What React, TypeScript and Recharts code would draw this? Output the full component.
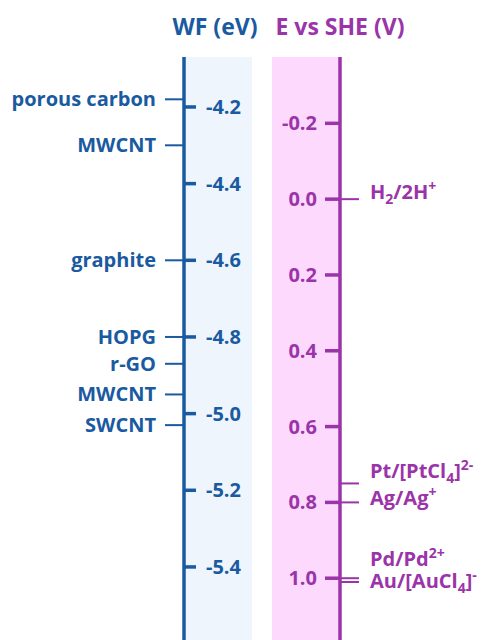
import React from 'react'
import { ComposedChart, XAxis, YAxis, Scatter, ReferenceArea } from 'recharts'

// axis ticks
const wfTicks = [-4.2, -4.4, -4.6, -4.8, -5.0, -5.2, -5.4]
const sheTicks = [-0.2, 0.0, 0.2, 0.4, 0.6, 0.8, 1.0]

// carbon materials and their work function (eV)
const materials = ['porous carbon', 'MWCNT', 'graphite', 'HOPG', 'r-GO', 'MWCNT', 'SWCNT']
const workFunctions = [-4.18, -4.3, -4.6, -4.8, -4.87, -4.95, -5.03]

// redox couples and their potential vs SHE (V); _x = subscript, ^... = superscript
const couples = ['H_2/2H^+', 'Pt/[PtCl_4]^2-', 'Ag/Ag^+', 'Pd/Pd^2+', 'Au/[AuCl_4]^-']
const potentials = [0.0, 0.75, 0.8, 1.0, 1.01]

const BLUE = '#1a5aa0'
const PURPLE = '#9a34a8'
const FONT = '"Open Sans", Lato, sans-serif'
const FS = 20

// text nudges so neighbouring labels don't collide
const coupleTextShift: Record<string, number> = {
  'Pt/[PtCl_4]^2-': -5,
  'Ag/Ag^+': 3,
  'Pd/Pd^2+': -12,
  'Au/[AuCl_4]^-': 6,
}

const materialData = materials.map((name, i) => ({ x: 0, wf: workFunctions[i], name }))
const coupleData = couples.map((name, i) => ({ x: 1, e: potentials[i], name }))

function chemSpans(label: string) {
  const segs: { t: string; k: 'n' | 'sub' | 'sup' }[] = []
  let buf = ''
  for (let i = 0; i < label.length; i++) {
    const c = label[i]
    if (c === '_') {
      if (buf) segs.push({ t: buf, k: 'n' })
      buf = ''
      segs.push({ t: label[i + 1], k: 'sub' })
      i++
    } else if (c === '^') {
      if (buf) segs.push({ t: buf, k: 'n' })
      buf = ''
      segs.push({ t: label.slice(i + 1), k: 'sup' })
      break
    } else {
      buf += c
    }
  }
  if (buf) segs.push({ t: buf, k: 'n' })
  let cur = 0
  return segs.map((s, i) => {
    const target = s.k === 'sub' ? 5 : s.k === 'sup' ? -8 : 0
    const dy = target - cur
    cur = target
    return (
      <tspan key={i} dy={dy} fontSize={s.k === 'n' ? FS : 14}>
        {s.t}
      </tspan>
    )
  })
}

const MaterialMark = (props: any) => {
  const { cx, cy, payload } = props
  return (
    <g>
      <line x1={cx - 19} x2={cx} y1={cy} y2={cy} stroke={BLUE} strokeWidth={2} />
      <text
        x={cx - 28}
        y={cy}
        dy="0.35em"
        textAnchor="end"
        fill={BLUE}
        fontFamily={FONT}
        fontWeight={700}
        fontSize={FS}
      >
        {payload.name}
      </text>
    </g>
  )
}

const CoupleMark = (props: any) => {
  const { cx, cy, payload } = props
  const shift = coupleTextShift[payload.name] ?? 0
  return (
    <g>
      <line x1={cx} x2={cx + 19} y1={cy} y2={cy} stroke={PURPLE} strokeWidth={2} />
      <text
        x={cx + 30}
        y={cy + shift}
        dy="0.35em"
        textAnchor="start"
        fill={PURPLE}
        fontFamily={FONT}
        fontWeight={700}
        fontSize={FS}
      >
        {chemSpans(payload.name)}
      </text>
    </g>
  )
}

const title = (text: string, color: string, dx: number) => (p: any) => {
  const vb = p.viewBox
  return (
    <text
      x={vb.x + dx}
      y={vb.y - 22}
      textAnchor="middle"
      fill={color}
      fontFamily={FONT}
      fontWeight={700}
      fontSize={23}
    >
      {text}
    </text>
  )
}

export default function App() {
  return (
    <div style={{ position: 'absolute', left: 0, top: 0, background: '#fff' }}>
      <ComposedChart width={484} height={640} margin={{ top: 57, right: 144, bottom: 0, left: 184 }}>
        <XAxis xAxisId={0} type="number" dataKey="x" domain={[0, 1]} hide />
        <YAxis
          yAxisId="left"
          orientation="left"
          mirror
          type="number"
          dataKey="wf"
          domain={[-5.5906, -4.0696]}
          ticks={wfTicks}
          interval={0}
          tickSize={12}
          tickMargin={10}
          tickFormatter={(v: number) => v.toFixed(1)}
          axisLine={{ stroke: BLUE, strokeWidth: 3.5 }}
          tickLine={{ stroke: BLUE, strokeWidth: 3.5 }}
          tick={{ fill: BLUE, fontSize: FS, fontWeight: 700, fontFamily: FONT }}
        />
        <YAxis
          yAxisId="right"
          orientation="right"
          mirror
          reversed
          type="number"
          dataKey="e"
          domain={[-0.375, 1.163]}
          ticks={sheTicks}
          interval={0}
          tickSize={15}
          tickMargin={8}
          tickFormatter={(v: number) => v.toFixed(1)}
          axisLine={{ stroke: PURPLE, strokeWidth: 3.5 }}
          tickLine={{ stroke: PURPLE, strokeWidth: 3.5 }}
          tick={{ fill: PURPLE, fontSize: FS, fontWeight: 700, fontFamily: FONT }}
        />
        <ReferenceArea
          yAxisId="left"
          x1={0}
          x2={0.436}
          fill="#eef5fc"
          fillOpacity={1}
          stroke="none"
          label={title('WF (eV)', BLUE, 31)}
        />
        <ReferenceArea
          yAxisId="left"
          x1={0.564}
          x2={1}
          fill="#fddafd"
          fillOpacity={1}
          stroke="none"
          label={title('E vs SHE (V)', PURPLE, 68)}
        />
        <Scatter
          yAxisId="left"
          data={materialData}
          dataKey="wf"
          shape={MaterialMark}
          isAnimationActive={false}
        />
        <Scatter
          yAxisId="right"
          data={coupleData}
          dataKey="e"
          shape={CoupleMark}
          isAnimationActive={false}
        />
      </ComposedChart>
    </div>
  )
}
